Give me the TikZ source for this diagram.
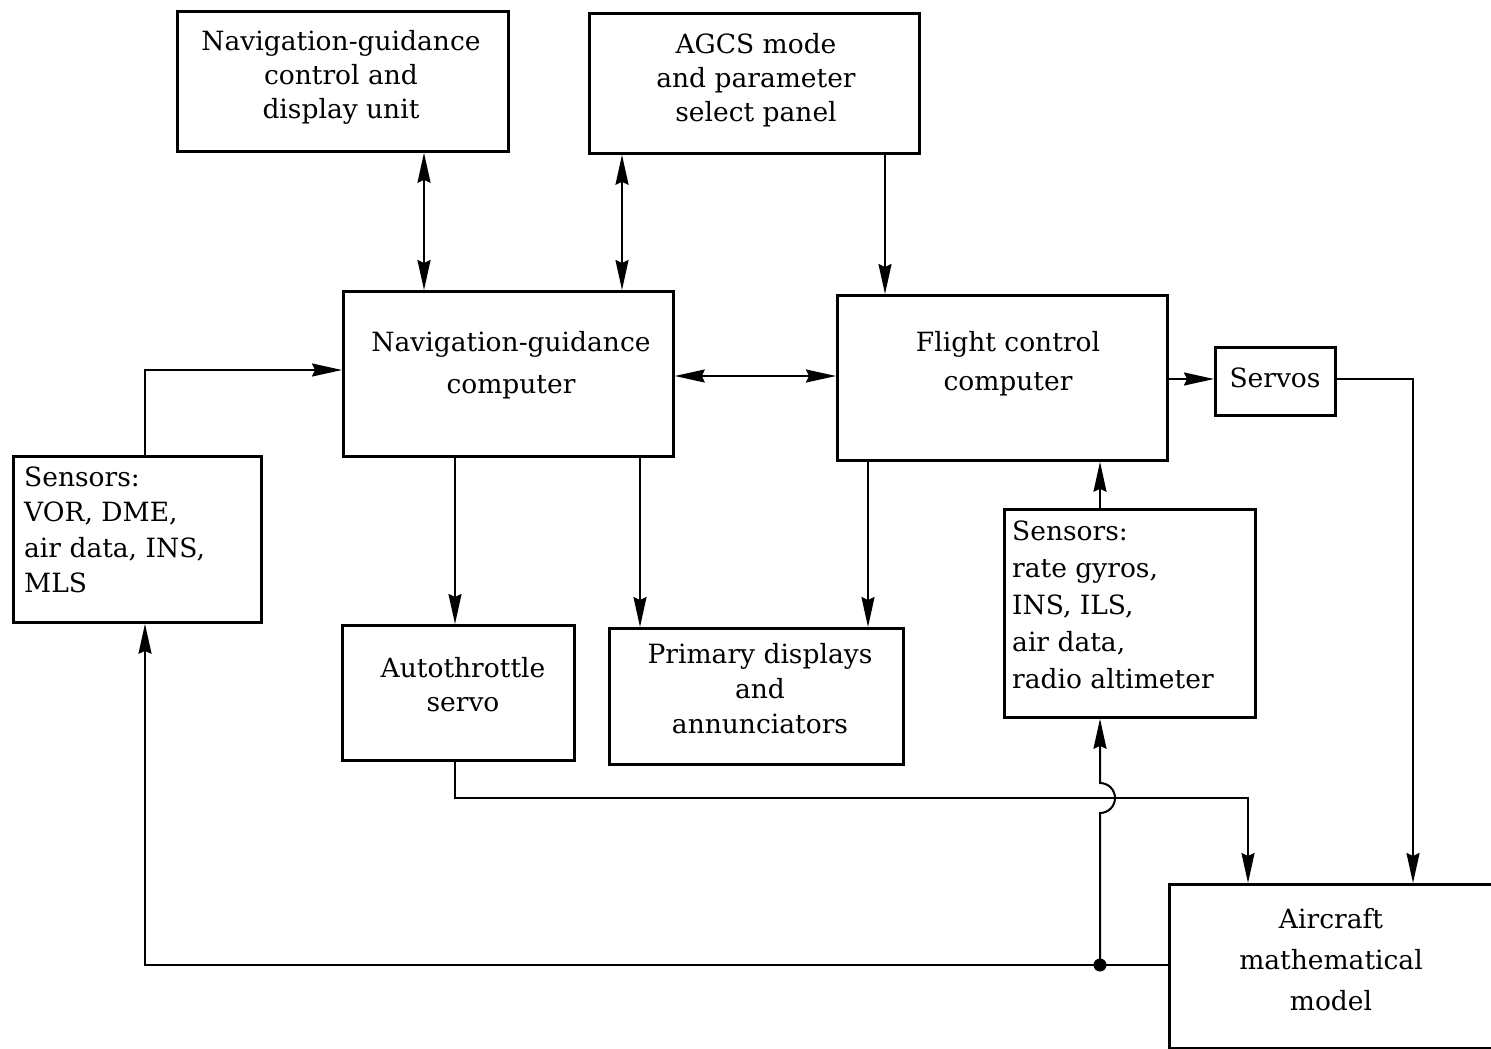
\documentclass[tikz,border=0pt]{standalone}
\usepackage{fontspec}
\setmainfont{DejaVu Serif}
\usetikzlibrary{arrows.meta}
\newcommand\txtsize[1]{\fontsize{26.5}{#1}\selectfont}
\tikzset{
  box/.style={draw, line width=2.8pt, inner sep=0pt, anchor=north west},
  txt/.style={inner sep=0pt, align=center},
  conn/.style={line width=2pt},
  >={Stealth[length=30pt,width=13pt,inset=3pt]}
}
\begin{document}
\begin{tikzpicture}[x=1pt,y=1pt]
\useasboundingbox (0,0) rectangle (1491,-1049);
% boxes
\node[box, minimum width=331, minimum height=140] (b1) at (176,-10) {};
\node[box, minimum width=330, minimum height=140] (b2) at (588,-12) {};
\node[box, minimum width=330, minimum height=165] (b3) at (342,-290) {};
\node[box, minimum width=330, minimum height=165] (b4) at (836,-294) {};
\node[box, minimum width=120, minimum height=68] (sv) at (1214,-346) {};
\node[box, minimum width=248, minimum height=166] (sl) at (12,-455) {};
\node[box, minimum width=232, minimum height=135] (at) at (341,-624) {};
\node[box, minimum width=294, minimum height=136] (pd) at (608,-627) {};
\node[box, minimum width=251, minimum height=208] (sr) at (1003,-508) {};
\node[box, minimum width=325, minimum height=164] (am) at (1168,-883) {};
% texts
\node[txt, font=\txtsize{34}] (t1) at (341,-77) {Navigation-guidance\\control and\\display unit};
\node[txt, font=\txtsize{34}] (t2) at (756,-80) {AGCS mode\\and parameter\\select panel};
\node[txt, font=\txtsize{42}] (t3) at (511,-365) {Navigation-guidance\\computer};
\node[txt, font=\txtsize{39}] (t4) at (1008,-364) {Flight control\\computer};
\node[txt, font=\txtsize{34}] (t5) at (1275,-378) {Servos};
\node[txt, font=\txtsize{35.5}, align=left, anchor=west] (t6) at (24,-530) {Sensors:\\VOR, DME,\\air data, INS,\\MLS};
\node[txt, font=\txtsize{34}] (t7) at (463,-685) {Autothrottle\\servo};
\node[txt, font=\txtsize{35}] (t8) at (760,-689) {Primary displays\\and\\annunciators};
\node[txt, font=\txtsize{37}, align=left, anchor=west] (t9) at (1012,-605) {Sensors:\\rate gyros,\\INS, ILS,\\air data,\\radio altimeter};
\node[txt, font=\txtsize{41}] (t10) at (1331,-960) {Aircraft\\mathematical\\model};
% connectors
\draw[conn,<->] (b1.south -| 424,0) -- (b3.north -| 424,0);
\draw[conn,<->] (b2.south -| 622,0) -- (b3.north -| 622,0);
\draw[conn,->] (b2.south -| 885,0) -- (b4.north -| 885,0);
\draw[conn,<->] (b3.east |- 0,-376) -- (b4.west |- 0,-376);
\draw[conn,->] (b4.east |- 0,-379) -- (sv.west |- 0,-379);
\draw[conn,->] (sv.east |- 0,-379) -| (am.north -| 1413,0);
\draw[conn,->] (b3.south -| 455,0) -- (at.north -| 455,0);
\draw[conn,->] (b3.south -| 640,0) -- (pd.north -| 640,0);
\draw[conn,->] (b4.south -| 868,0) -- (pd.north -| 868,0);
\draw[conn,->] (sr.north -| 1100,0) -- (b4.south -| 1100,0);
\draw[conn,->] (at.south -| 455,0) |- (1248,-798) -- (am.north -| 1248,0);
\coordinate (dot) at (1100,-965);
\draw[conn] (am.west |- dot) -- (dot);
\fill (dot) circle (6.5);
\draw[conn,->] (dot) -- (1100,-813) arc(-90:90:15) -- (sr.south -| 1100,0);
\draw[conn,->] (dot) -| (sl.south -| 145,0);
\draw[conn,->] (sl.north -| 145,0) |- (b3.west |- 0,-370);
\end{tikzpicture}
\end{document}
